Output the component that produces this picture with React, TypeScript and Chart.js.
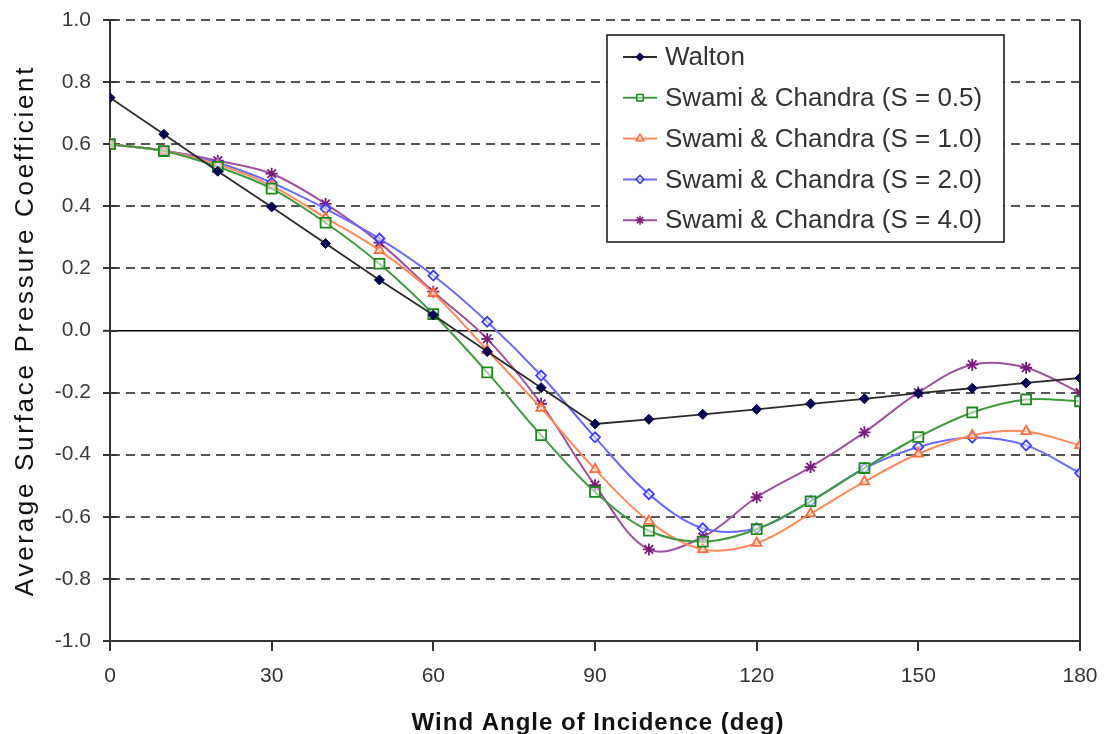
import React, { useEffect, useRef } from 'react';
import { Chart, registerables } from 'chart.js';
import { drawPoint } from 'chart.js/helpers';

Chart.register(...registerables);

const angles = [0, 10, 20, 30, 40, 50, 60, 70, 80, 90, 100, 110, 120, 130, 140, 150, 160, 170, 180];
const walton = [0.75, 0.632, 0.513, 0.398, 0.28, 0.163, 0.05, -0.068, -0.184, -0.301, -0.286, -0.27, -0.254, -0.236, -0.22, -0.202, -0.186, -0.169, -0.153];
const swamiS05 = [0.6, 0.578, 0.527, 0.457, 0.347, 0.215, 0.053, -0.135, -0.337, -0.52, -0.645, -0.68, -0.64, -0.55, -0.443, -0.343, -0.264, -0.222, -0.228];
const swamiS10 = [0.6, 0.579, 0.535, 0.466, 0.363, 0.258, 0.12, -0.064, -0.25, -0.447, -0.614, -0.705, -0.685, -0.59, -0.487, -0.397, -0.338, -0.325, -0.37];
const swamiS20 = [0.6, 0.579, 0.54, 0.476, 0.392, 0.296, 0.177, 0.028, -0.145, -0.344, -0.527, -0.637, -0.637, -0.55, -0.444, -0.375, -0.345, -0.37, -0.459];
const swamiS40 = [0.6, 0.58, 0.547, 0.505, 0.408, 0.283, 0.125, -0.027, -0.236, -0.498, -0.705, -0.665, -0.537, -0.44, -0.328, -0.2, -0.11, -0.12, -0.2];

const seriesLabels = [
  'Walton',
  'Swami & Chandra (S = 0.5)',
  'Swami & Chandra (S = 1.0)',
  'Swami & Chandra (S = 2.0)',
  'Swami & Chandra (S = 4.0)',
];
const xTitle = 'Wind Angle of Incidence (deg)';
const yTitle = 'Average Surface Pressure Coefficient';

const FONT = "'Liberation Sans', Arial, Helvetica, sans-serif";

const toXY = (vals: number[]) => vals.map((v, i) => ({ x: angles[i], y: v }));

const legendMarkerRadius = [3.5, 4.5, 4.5, 4, 4.5];

const decorPlugin = {
  id: 'decor',
  beforeDatasetsDraw(chart: any) {
    const { ctx, chartArea: a, scales } = chart;
    const y = scales.y;
    ctx.save();
    ctx.strokeStyle = '#333';
    ctx.lineWidth = 2;
    ctx.beginPath();
    ctx.moveTo(a.right, a.top);
    ctx.lineTo(a.right, a.bottom);
    y.ticks.forEach((t: any) => {
      const py = Math.round(y.getPixelForValue(t.value));
      ctx.moveTo(a.left, py);
      ctx.lineTo(a.left + 7, py);
    });
    ctx.stroke();
    ctx.restore();
  },
  afterDraw(chart: any) {
    const { ctx, chartArea: a } = chart;
    ctx.save();
    ctx.fillStyle = '#111';
    ctx.font = `bold 24px ${FONT}`;
    ctx.textAlign = 'center';
    ctx.textBaseline = 'alphabetic';
    try { (ctx as any).letterSpacing = '1px'; } catch (e) {}
    ctx.fillText(xTitle, (a.left + a.right) / 2 + 3, a.bottom + 89);
    ctx.save();
    ctx.translate(33, (a.top + a.bottom) / 2);
    ctx.rotate(-Math.PI / 2);
    ctx.font = `26px ${FONT}`;
    try { (ctx as any).letterSpacing = '2.7px'; } catch (e) {}
    ctx.fillText(yTitle, 0, 0);
    ctx.restore();
    try { (ctx as any).letterSpacing = '0px'; } catch (e) {}

    const bx = a.right - 473;
    const by = a.top + 15;
    const bw = 397;
    const bh = 207;
    ctx.fillStyle = '#fff';
    ctx.fillRect(bx, by, bw, bh);
    ctx.strokeStyle = '#111';
    ctx.lineWidth = 1.5;
    ctx.strokeRect(bx, by, bw, bh);
    ctx.font = `26px ${FONT}`;
    ctx.textAlign = 'left';
    ctx.textBaseline = 'middle';
    chart.data.datasets.forEach((ds: any, i: number) => {
      const cy = by + 22 + i * 40.8;
      ctx.strokeStyle = ds.borderColor;
      ctx.lineWidth = ds.borderWidth;
      ctx.setLineDash([]);
      ctx.beginPath();
      ctx.moveTo(bx + 16, cy);
      ctx.lineTo(bx + 50, cy);
      ctx.stroke();
      ctx.strokeStyle = ds.pointBorderColor;
      ctx.fillStyle = ds.pointBackgroundColor;
      ctx.lineWidth = 1.5;
      drawPoint(ctx, { pointStyle: ds.pointStyle, rotation: 0, radius: legendMarkerRadius[i], borderWidth: 1.5 } as any, bx + 33, cy);
      ctx.fillStyle = '#333';
      ctx.fillText(ds.label, bx + 58, cy + 1);
    });
    ctx.restore();
  },
};

export default function App() {
  const ref = useRef<HTMLCanvasElement | null>(null);
  useEffect(() => {
    document.body.style.margin = '0';
    if (!ref.current) return;
    const chart = new Chart(ref.current, {
      type: 'line',
      data: {
        datasets: [
          {
            label: seriesLabels[0],
            data: toXY(walton),
            borderColor: '#2b2b2b',
            borderWidth: 1.8,
            tension: 0,
            pointStyle: 'rectRot',
            pointRadius: 5,
            pointBorderWidth: 1,
            pointBackgroundColor: '#000050',
            pointBorderColor: '#000050',
          },
          {
            label: seriesLabels[1],
            data: toXY(swamiS05),
            borderColor: '#3f9a3f',
            borderWidth: 2,
            tension: 0.35,
            pointStyle: 'rect',
            pointRadius: 7,
            pointBorderWidth: 1.8,
            pointBackgroundColor: 'rgba(255,255,255,0.5)',
            pointBorderColor: '#1b8a1b',
          },
          {
            label: seriesLabels[2],
            data: toXY(swamiS10),
            borderColor: '#ff8a5c',
            borderWidth: 2,
            tension: 0.35,
            pointStyle: 'triangle',
            pointRadius: 5.5,
            pointBorderWidth: 1.8,
            pointBackgroundColor: 'rgba(255,255,255,0.5)',
            pointBorderColor: '#ff6a3a',
          },
          {
            label: seriesLabels[3],
            data: toXY(swamiS20),
            borderColor: '#6a6aff',
            borderWidth: 2,
            tension: 0.35,
            pointStyle: 'rectRot',
            pointRadius: 5,
            pointBorderWidth: 1.8,
            pointBackgroundColor: 'rgba(255,255,255,0.5)',
            pointBorderColor: '#3c3cff',
          },
          {
            label: seriesLabels[4],
            data: toXY(swamiS40),
            borderColor: '#a050a0',
            borderWidth: 2,
            tension: 0.35,
            pointStyle: 'star',
            pointRadius: 6,
            pointBorderWidth: 1.8,
            pointBackgroundColor: '#7a1a7a',
            pointBorderColor: '#7a1a7a',
          },
        ],
      },
      options: {
        animation: false,
        responsive: false,
        maintainAspectRatio: false,
        layout: { padding: { top: 20, right: 30, left: 0, bottom: 0 } },
        plugins: { legend: { display: false }, tooltip: { enabled: false } },
        scales: {
          x: {
            type: 'linear',
            min: 0,
            max: 180,
            afterFit: (s: any) => { s.height = 93; s.paddingLeft = 0; s.paddingRight = 0; },
            ticks: { stepSize: 30, color: '#333', font: { family: FONT, size: 21 }, padding: 13, maxRotation: 0 },
            grid: { drawOnChartArea: false, tickLength: 10, color: '#333', lineWidth: 2, tickColor: '#333' },
            border: { display: true, color: '#333', width: 2 },
          },
          y: {
            type: 'linear',
            min: -1,
            max: 1,
            afterFit: (s: any) => { s.width = 110; s.paddingTop = 0; s.paddingBottom = 0; },
            ticks: {
              stepSize: 0.2,
              color: '#3a3a3a',
              font: { family: FONT, size: 21 },
              padding: 12,
              callback: (v: any) => Number(v).toFixed(1),
            },
            grid: {
              tickLength: 7,
              tickColor: '#333',
              tickWidth: 2,
              color: (c: any) => {
                const v = c.tick ? Math.round(c.tick.value * 10) / 10 : 1;
                if (v === 0) return '#000';
                if (v === -1) return 'rgba(0,0,0,0)';
                return '#555';
              },
              lineWidth: (c: any) => {
                const v = c.tick ? Math.round(c.tick.value * 10) / 10 : 1;
                return v === 0 ? 1.6 : 2;
              },
            },
            border: {
              display: true,
              color: '#333',
              width: 2,
              dash: (c: any) => {
                const v = c.tick ? Math.round(c.tick.value * 10) / 10 : 1;
                return v === 0 ? [] : [9, 6];
              },
            },
          },
        },
      } as any,
      plugins: [decorPlugin],
    });
    return () => chart.destroy();
  }, []);
  return (
    <div style={{ width: 1110, height: 734 }}>
      <canvas ref={ref} width={1110} height={734} style={{ display: 'block' }} />
    </div>
  );
}
